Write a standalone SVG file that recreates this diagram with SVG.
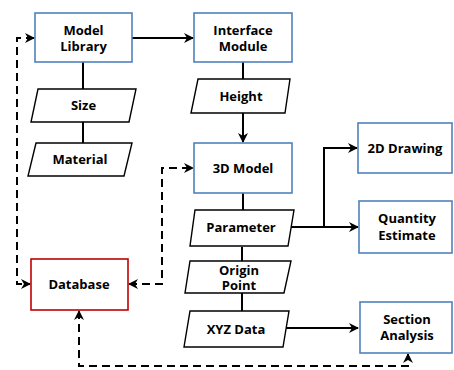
<svg xmlns="http://www.w3.org/2000/svg" width="454" height="370" viewBox="0 0 454 370">
  <defs>
    <marker id="arr" viewBox="0 0 10 10" refX="9" refY="5" markerWidth="5" markerHeight="5" orient="auto-start-reverse">
      <path d="M0,0 L10,5 L0,10 L3,5 z" fill="#000"/>
    </marker>
    <style>
      .box { fill: #fff; stroke: #4f81bd; stroke-width: 1.6; }
      .db { fill: #fff; stroke: #c00000; stroke-width: 1.6; }
      .io { fill: #fff; stroke: #000; stroke-width: 1.4; }
      .t { font-family: "Open Sans", "Liberation Sans", sans-serif; font-weight: bold; font-size: 13px; fill: #000; text-anchor: middle; }
      .ln { fill: none; stroke: #000; stroke-width: 2; }
      .dl { fill: none; stroke: #000; stroke-width: 2; stroke-dasharray: 8 5; }
    </style>
  </defs>
  <rect width="454" height="370" fill="#fff"/>

  <g id="connectors">
    <path class="ln" d="M83,62 V89 M83,122 V143" />
    <path class="ln" d="M132,38 H193" marker-end="url(#arr)"/>
    <path class="ln" d="M243,62 V79" />
    <path class="ln" d="M243,113 V142" marker-end="url(#arr)"/>
    <path class="ln" d="M243,193 V210 M242,247 V261 M242,293 V311" />
    <path class="ln" d="M291,227 H358" marker-end="url(#arr)"/>
    <path class="ln" d="M324,227 V148 H357" marker-end="url(#arr)"/>
    <path class="ln" d="M286,328 H358" marker-end="url(#arr)"/>
    <path class="dl" d="M34,38 H17 V284 H30" marker-start="url(#arr)" marker-end="url(#arr)"/>
    <path class="dl" d="M129,284 H162 V168 H193" marker-start="url(#arr)" marker-end="url(#arr)"/>
    <path class="dl" d="M79,311 V366 H408 V354" marker-start="url(#arr)" marker-end="url(#arr)"/>
  </g>

  <g id="model-library">
    <rect class="box" x="35" y="13" width="97" height="49"/>
    <text class="t" x="83.5" y="35">Model</text>
    <text class="t" x="83.5" y="51">Library</text>
  </g>
  <g id="interface-module">
    <rect class="box" x="194" y="13" width="98" height="49"/>
    <text class="t" x="243" y="35">Interface</text>
    <text class="t" x="243" y="51">Module</text>
  </g>
  <g id="size">
    <polygon class="io" points="38,89 136,89 129,122 31,122"/>
    <text class="t" x="83.5" y="110">Size</text>
  </g>
  <g id="material">
    <polygon class="io" points="36,143 132,143 124,176 28,176"/>
    <text class="t" x="80" y="164">Material</text>
  </g>
  <g id="height">
    <polygon class="io" points="198,79 290,79 285,113 191,113"/>
    <text class="t" x="241" y="101">Height</text>
  </g>
  <g id="model-3d">
    <rect class="box" x="194" y="143" width="98" height="50"/>
    <text class="t" x="243" y="173">3D Model</text>
  </g>
  <g id="parameter">
    <polygon class="io" points="195,210 294,210 288,246 190,246"/>
    <text class="t" x="241" y="232">Parameter</text>
  </g>
  <g id="origin-point">
    <polygon class="io" points="190,261 291,261 284,293 185,293"/>
    <text class="t" x="239" y="275">Origin</text>
    <text class="t" x="239" y="290">Point</text>
  </g>
  <g id="xyz-data">
    <polygon class="io" points="190,311 289,311 283,347 184,347"/>
    <text class="t" x="236" y="334">XYZ Data</text>
  </g>
  <g id="drawing-2d">
    <rect class="box" x="358" y="123" width="94" height="50"/>
    <text class="t" x="405" y="153">2D Drawing</text>
  </g>
  <g id="quantity-estimate">
    <rect class="box" x="359" y="201" width="93" height="52"/>
    <text class="t" x="407" y="223">Quantity</text>
    <text class="t" x="407" y="240">Estimate</text>
  </g>
  <g id="section-analysis">
    <rect class="box" x="360" y="302" width="92" height="51"/>
    <text class="t" x="407" y="324">Section</text>
    <text class="t" x="407" y="340">Analysis</text>
  </g>
  <g id="database">
    <rect class="db" x="31" y="259" width="97" height="51"/>
    <text class="t" x="79" y="289">Database</text>
  </g>
</svg>
